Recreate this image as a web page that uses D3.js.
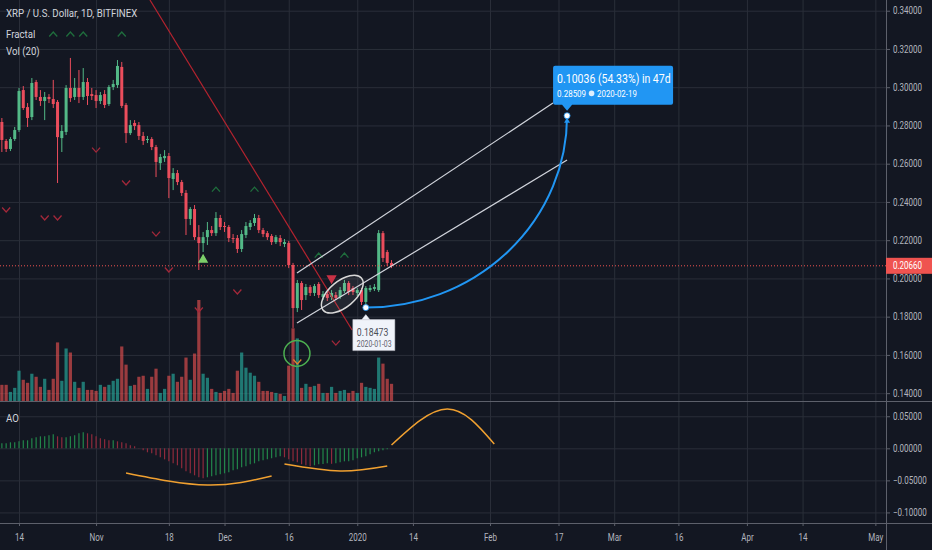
<!DOCTYPE html>
<html>
<head>
<meta charset="utf-8">
<script src="https://cdn.jsdelivr.net/npm/d3@7"></script>
<style>
  body { margin: 0; background: #131722; }
  svg { display: block; }
  text { font-family: Roboto, "Noto Sans", sans-serif; }
</style>
</head>
<body>
<svg id="chart" width="932" height="550"></svg>
<script>
// ---- data (XRP/USD daily, Bitfinex) : Oct 10 2019 .. Jan 9 2020 ----
const firstDay = "2019-10-10";
const lastDay = "2020-01-10"; // exclusive

const opens = [
  .2818,.2719,.2677,.2729,.2776,.2985,.2896,.2844,.3027,.2949,.2928,.2949,.2938,.2923,.2734,.2766,.2996,.2949,.2996,.2949,.3027,.2964,
  .2959,.2928,.2964,.2912,.3001,.3011,.3106,.2907,.2760,.2813,.2802,.2745,.2724,.2729,.2687,.2603,.2629,.2640,.2520,.2551,.2504,.2447,.2311,.2363,.2216,.2185,.2216,.2253,.2237,.2316,
  .2274,.2269,.2211,.2211,.2154,.2227,.2269,.2290,.2316,.2253,.2237,.2222,.2190,.2211,.2180,.2185,.2070,.1845,.1976,.1913,.1955,.1924,.1971,.1903,.1918,.1903,.1913,.1903,.1934,.1976,.1950,
  .1924,.1939,.1877,.1939,.1945,.1939,.2237,.2138,.2081
];
const highs = [
  .2839,.2729,.2739,.2792,.2996,.3006,.2917,.3048,.3038,.2985,.2975,.2964,.3038,.2933,.2802,.3011,.3153,.3048,.3090,.3100,.3048,.2996,
  .2985,.2975,.2985,.3011,.3038,.3142,.3132,.2917,.2828,.2828,.2818,.2766,.2745,.2739,.2698,.2651,.2671,.2656,.2577,.2567,.2515,.2462,.2373,.2384,.2279,.2243,.2295,.2274,.2347,.2332,
  .2295,.2279,.2232,.2227,.2253,.2295,.2305,.2337,.2332,.2264,.2248,.2232,.2227,.2227,.2206,.2196,.2081,.1992,.1986,.1971,.1965,.1971,.1981,.1934,.1929,.1939,.1929,.1955,.1992,.1986,.1960,
  .1950,.1950,.1960,.1965,.1971,.2253,.2248,.2149,.2096
];
const lows = [
  .2661,.2661,.2666,.2719,.2766,.2881,.2792,.2828,.2933,.2902,.2828,.2917,.2891,.2499,.2661,.2750,.2923,.2933,.2917,.2933,.2907,.2933,
  .2891,.2912,.2891,.2902,.2985,.2996,.2891,.2708,.2750,.2776,.2724,.2698,.2708,.2671,.2530,.2567,.2609,.2420,.2462,.2488,.2431,.2227,.2279,.2201,.2044,.2138,.2175,.2222,.2222,.2253,
  .2243,.2190,.2185,.2133,.2138,.2211,.2253,.2274,.2237,.2216,.2201,.2175,.2180,.2169,.2164,.2054,.1741,.1824,.1835,.1887,.1908,.1908,.1898,.1887,.1882,.1887,.1887,.1892,.1924,.1913,.1913,
  .1908,.1861,.18473,.1929,.1934,.1929,.2086,.2065,.2054
];
const closes = [
  .2724,.2677,.2729,.2776,.2980,.2891,.2839,.3022,.2949,.2928,.2949,.2938,.2912,.2739,.2771,.2996,.2943,.2996,.2949,.3027,.2954,.2954,
  .2928,.2959,.2907,.3001,.3017,.3111,.2902,.2760,.2802,.2797,.2745,.2719,.2729,.2687,.2609,.2635,.2640,.2525,.2551,.2504,.2447,.2311,.2363,.2216,.2185,.2216,.2253,.2237,.2316,.2269,
  .2269,.2211,.2206,.2154,.2232,.2274,.2290,.2316,.2253,.2232,.2216,.2190,.2216,.2190,.2190,.2070,.1845,.1976,.1887,.1955,.1924,.1960,.1913,.1918,.1898,.1924,.1898,.1939,.1976,.1929,.1929,
  .1939,.1877,.1950,.1950,.1955,.2237,.2107,.2081,.2066
];
// volume, millions XRP
const volumes = [
  16,16,9,13,30,21,18,27,24,14,22,11,22,58,20,52,48,19,13,19,11,11,
  10,16,14,16,20,22,54,36,15,16,24,25,12,24,32,8,12,25,27,19,24,43,21,47,100,27,23,12,9,8,
  10,12,8,30,48,33,28,25,19,10,10,9,8,7,5,35,72,62,13,17,14,15,17,8,8,14,8,10,11,8,10,
  8,18,14,13,12,43,37,22,17
];
// Awesome Oscillator, Oct 10 .. Jan 8
const aoValues = [
  .0078,.0078,.0094,.0094,.0109,.0125,.0125,.0156,.0172,.0187,.0187,.0203,.0218,.0187,.0172,.0172,.0187,.0203,.0234,.0250,.0234,.0218,
  .0187,.0156,.0140,.0125,.0125,.0109,.0094,.0078,.0047,.0031,.0004,-.0031,-.0062,-.0078,-.0109,-.0140,-.0172,-.0203,-.0234,-.0265,-.0312,-.0359,-.0390,-.0421,-.0452,-.0468,-.0452,-.0437,-.0421,-.0406,
  -.0390,-.0374,-.0343,-.0328,-.0296,-.0281,-.0250,-.0234,-.0203,-.0187,-.0172,-.0156,-.0140,-.0125,-.0140,-.0172,-.0203,-.0218,-.0250,-.0265,-.0281,-.0265,-.0250,-.0246,-.0234,-.0242,-.0234,-.0218,-.0203,-.0200,-.0187,
  -.0156,-.0140,-.0125,-.0094,-.0062,-.0047,-.0031,-.0016
];

// Williams fractals as plotted
const fractalUp = [["2019-10-22",.3278],["2019-10-26",.3278],["2019-10-29",.3278],["2019-11-07",.3278],
  ["2019-11-29",.2467],["2019-12-08",.2467],["2019-12-23",.2122],["2019-12-29",.2122]];
const fractalUpStrong = [["2019-11-26",.2101]];
const fractalDown = [["2019-10-11",.2358],["2019-10-20",.2316],["2019-10-23",.2316],["2019-11-01",.2671],
  ["2019-11-08",.2499],["2019-11-15",.2232],["2019-11-18",.2044],["2019-11-25",.1835],["2019-12-04",.1929],["2019-12-27",.1662]];
const fractalDownStrong = [["2019-12-26",.1997]];
const fractalMarked = [["2019-12-18",.1563]];

// axis ticks
const priceTicks = [0.14,0.16,0.18,0.20,0.22,0.24,0.26,0.28,0.30,0.32,0.34];
const aoTicks = [0.05,0,-0.05,-0.10];
const timeTicks = ["2019-10-14","2019-11-01","2019-11-18","2019-12-01","2019-12-16","2020-01-01","2020-01-14",
  "2020-02-01","2020-02-17","2020-03-01","2020-03-16","2020-04-01","2020-04-14","2020-05-01"];
const timeLabels = ["14","Nov","18","Dec","16","2020","14","Feb","17","Mar","16","Apr","14","May"];

// drawings
const trendLine = [["2019-11-13T14:00Z",.3456],["2019-12-30T19:00Z",.1730]];
const channelUpper = [["2019-12-17T22:00Z",.2028],["2020-02-15T17:00Z",.2917]];
const channelLower = [["2019-12-17T22:00Z",.1767],["2020-02-19T00:00Z",.2619]];
const ellipseCenter = ["2019-12-28T12:00Z",.1918];
const circleCenter = ["2019-12-17T22:00Z",.1608];
const projFrom = ["2020-01-03",.18473];
const projTo = ["2020-02-19",.28509];
const aoArcs = [
  [["2019-11-08",-.0385],["2019-11-27",-.0573],["2019-12-12",-.0432]],
  [["2019-12-15",-.0245],["2019-12-28",-.0354],["2020-01-08",-.0276]],
  [["2020-01-09",.0052],["2020-01-22",.0613],["2020-02-02",.0067]]
];
const lastPrice = 0.2066;

// ---- layout ----
const W = 932, H = 550, axisX = 886;
const priceBottom = 401, aoTop = 401, aoBottom = 523;
const upColor = "#53b987", downColor = "#eb4d5c";
const gridColor = "#2a2e39", textColor = "#b2b5be";

const parse = s => new Date(s);
const days = d3.utcDay.range(parse(firstDay), parse(lastDay));
const candles = days.map((d, i) => ({
  date: d, o: opens[i], h: highs[i], l: lows[i], c: closes[i], v: volumes[i], ao: aoValues[i]
}));

const x = d3.scaleUtc().domain([parse("2019-10-14"), parse("2020-02-01")]).range([19, 490]);
const y = d3.scaleLinear().domain([0.1359, 0.3456]).range([priceBottom, 0]);
const yVol = d3.scaleLinear().domain([0, 100]).range([priceBottom, 300]);
const yAo = d3.scaleLinear().domain([-0.1165, 0.0738]).range([aoBottom, aoTop]);
const fmt = d3.format(".5f");

// the screenshot's font is narrow, so squeeze text horizontally
function squeeze(sel, k) {
  sel.each(function() {
    const t = d3.select(this);
    const x0 = +t.attr("x") || 0;
    t.attr("x", x0 / k).attr("transform", `scale(${k},1)`);
  });
}

const svg = d3.select("#chart");
svg.append("rect").attr("width", W).attr("height", H).attr("fill", "#131722");

const defs = svg.append("defs");
defs.append("clipPath").attr("id", "priceClip")
  .append("rect").attr("width", axisX).attr("height", priceBottom);
defs.append("clipPath").attr("id", "aoClip")
  .append("rect").attr("y", aoTop).attr("width", axisX).attr("height", aoBottom - aoTop);

// ---- grid ----
function styleGrid(g) {
  g.select(".domain").remove();
  g.selectAll(".tick line").attr("stroke", gridColor);
}
svg.append("g")
  .call(d3.axisBottom(x).tickValues(timeTicks.map(parse)).tickSize(aoBottom).tickFormat(""))
  .call(styleGrid);
svg.append("g").attr("transform", `translate(${axisX},0)`)
  .call(d3.axisLeft(y).tickValues(priceTicks).tickSize(axisX).tickFormat(""))
  .call(styleGrid);
svg.append("g").attr("transform", `translate(${axisX},0)`)
  .call(d3.axisLeft(yAo).tickValues(aoTicks).tickSize(axisX).tickFormat(""))
  .call(styleGrid);

// ---- price pane ----
const pane = svg.append("g").attr("clip-path", "url(#priceClip)");

pane.append("g").selectAll("rect").data(candles).join("rect")
  .attr("x", d => x(d.date) - 1.6).attr("width", 3.2)
  .attr("y", d => yVol(d.v)).attr("height", d => priceBottom - yVol(d.v))
  .attr("fill", d => d.c >= d.o ? "rgba(38,166,154,0.68)" : "rgba(239,83,80,0.62)");

pane.append("g").selectAll("line").data(candles).join("line")
  .attr("x1", d => x(d.date)).attr("x2", d => x(d.date))
  .attr("y1", d => y(d.h)).attr("y2", d => y(d.l))
  .attr("stroke", d => d.c >= d.o ? upColor : downColor).attr("stroke-width", 1);

pane.append("g").selectAll("rect").data(candles).join("rect")
  .attr("x", d => x(d.date) - 1.5).attr("width", 3)
  .attr("y", d => y(Math.max(d.o, d.c)))
  .attr("height", d => Math.max(1, Math.abs(y(d.o) - y(d.c))))
  .attr("fill", d => d.c >= d.o ? upColor : downColor);

// last price line
pane.append("line")
  .attr("x1", 0).attr("x2", axisX).attr("y1", y(lastPrice)).attr("y2", y(lastPrice))
  .attr("stroke", "#ef5350").attr("stroke-dasharray", "1,2").attr("stroke-width", 1);

// fractals
const chevUp = "M-4,2.5L0,-2L4,2.5", chevDown = "M-4,-2.5L0,2L4,-2.5";
function marks(data, path, stroke, fill) {
  pane.append("g").selectAll("path").data(data).join("path")
    .attr("transform", d => `translate(${x(parse(d[0]))},${y(d[1])})`)
    .attr("d", path)
    .attr("fill", fill || "none").attr("stroke", stroke).attr("stroke-width", 1.3);
}
marks(fractalUp, chevUp, "#1f6e3d");
marks(fractalDown, chevDown, "#a3283a");
marks(fractalUpStrong, "M-4,3L0,-4L4,3Z", "#7ccf6a", "#7ccf6a");
marks(fractalDownStrong, "M-4,-3L0,4L4,-3Z", "#c83246", "#c83246");
marks(fractalMarked, chevDown, "#d9822b");

// drawings
const pt = p => [x(parse(p[0])), y(p[1])];
function segment(pts, color, width) {
  pane.append("path").attr("d", d3.line()(pts.map(pt)))
    .attr("stroke", color).attr("stroke-width", width).attr("fill", "none");
}
segment(trendLine, "#b5232f", 1.2);
segment(channelUpper, "#d1d4dc", 1.2);
segment(channelLower, "#d1d4dc", 1.2);

const ec = pt(ellipseCenter);
pane.append("ellipse")
  .attr("transform", `translate(${ec[0]},${ec[1]}) rotate(-40)`)
  .attr("rx", 25).attr("ry", 13)
  .attr("fill", "rgba(255,255,255,0.07)").attr("stroke", "#d8d8d8").attr("stroke-width", 1.5);

const cc = pt(circleCenter);
pane.append("circle").attr("cx", cc[0]).attr("cy", cc[1]).attr("r", 13)
  .attr("fill", "none").attr("stroke", "#4caf50").attr("stroke-width", 1.5);

// projection arc (quarter ellipse from the low to the target)
const p0 = pt(projFrom), p1 = pt(projTo);
pane.append("path")
  .attr("d", `M${p0[0]},${p0[1]} A${p1[0] - p0[0]},${p0[1] - p1[1]} 0 0 0 ${p1[0]},${p1[1]}`)
  .attr("fill", "none").attr("stroke", "#2196f3").attr("stroke-width", 2);
pane.append("path")
  .attr("transform", `translate(${p1[0]},${p1[1] + 4})`)
  .attr("d", "M-3,3L0,-2L3,3Z").attr("fill", "#2196f3");
pane.append("circle").attr("cx", p0[0]).attr("cy", p0[1]).attr("r", 3)
  .attr("fill", "#fff").attr("stroke", "#2196f3").attr("stroke-width", 0.8);
pane.append("circle").attr("cx", p1[0]).attr("cy", p1[1]).attr("r", 3)
  .attr("fill", "#fff").attr("stroke", "#2196f3").attr("stroke-width", 0.8);

// low label
const low = pane.append("g").attr("transform", `translate(${p0[0]},${p0[1]})`);
low.append("path").attr("d", "M-13,12H29V43H-13Z M-4,12L0,7L4,12Z")
  .attr("fill", "#f0f3fa").attr("stroke", "#c8cbd3").attr("stroke-width", 0.5);
low.append("text").attr("x", -9).attr("y", 28).attr("font-size", 11.7).attr("fill", "#4a4e59")
  .text(fmt(projFrom[1])).call(squeeze, 0.74);
low.append("text").attr("x", -9).attr("y", 39).attr("font-size", 8.5).attr("fill", "#5d606b")
  .text(projFrom[0]).call(squeeze, 0.81);

// range callout
const dPrice = projTo[1] - projFrom[1];
const dDays = d3.utcDay.count(parse(projFrom[0]), parse(projTo[0]));
const box = pane.append("g").attr("transform", `translate(${p1[0]},${p1[1]})`);
box.append("path")
  .attr("d", "M-12,-50H104a2,2 0 0 1 2,2V-13a2,2 0 0 1 -2,2H5L0,-5L-5,-11H-12a2,2 0 0 1 -2,-2V-48a2,2 0 0 1 2,-2Z")
  .attr("fill", "#2196f3");
box.append("text").attr("x", -10).attr("y", -33).attr("font-size", 13).attr("fill", "#fff")
  .text(`${fmt(dPrice)} (${(dPrice / projFrom[1] * 100).toFixed(2)}%) in ${dDays}d`).call(squeeze, 0.81);
box.append("text").attr("x", -10).attr("y", -19).attr("font-size", 9.5).attr("fill", "#fff")
  .text(fmt(projTo[1])).call(squeeze, 0.84);
box.append("circle").attr("cx", 24.5).attr("cy", -22.3).attr("r", 2.8).attr("fill", "#fff").attr("opacity", 0.85);
box.append("text").attr("x", 30).attr("y", -19).attr("font-size", 9.5).attr("fill", "#fff")
  .text(projTo[0]).call(squeeze, 0.83);

// ---- AO pane ----
const aoPane = svg.append("g").attr("clip-path", "url(#aoClip)");
const aoData = candles.filter(d => d.ao !== undefined);
aoPane.append("g").selectAll("line").data(aoData).join("line")
  .attr("x1", d => x(d.date)).attr("x2", d => x(d.date))
  .attr("y1", yAo(0)).attr("y2", d => yAo(d.ao))
  .attr("stroke", (d, i) => i > 0 && d.ao < aoData[i - 1].ao ? "#8f2a3c" : "#22864a")
  .attr("stroke-width", 1.2);

const arcLine = d3.line().x(p => x(parse(p[0]))).y(p => yAo(p[1])).curve(d3.curveNatural);
aoPane.append("g").selectAll("path").data(aoArcs).join("path")
  .attr("d", arcLine)
  .attr("fill", "none").attr("stroke", "#f0a030").attr("stroke-width", 1.5);

// ---- separators and axes ----
svg.append("line").attr("x1", 0).attr("x2", W).attr("y1", aoTop + 0.5).attr("y2", aoTop + 0.5)
  .attr("stroke", "#5d606b");
svg.append("line").attr("x1", 0).attr("x2", W).attr("y1", aoBottom + 0.5).attr("y2", aoBottom + 0.5)
  .attr("stroke", "#5d606b");
svg.append("line").attr("x1", axisX + 0.5).attr("x2", axisX + 0.5).attr("y1", 0).attr("y2", H)
  .attr("stroke", "#5d606b");

function styleAxis(g) {
  g.select(".domain").remove();
  g.selectAll(".tick line").attr("stroke", "#5d606b");
  g.selectAll(".tick text").attr("fill", textColor).attr("font-size", 10)
    .style("font-family", "Roboto, sans-serif").call(squeeze, 0.8);
}
svg.append("g").attr("transform", `translate(${axisX},0)`)
  .call(d3.axisRight(y).tickValues(priceTicks).tickFormat(fmt).tickSize(4).tickPadding(3))
  .call(styleAxis);
svg.append("g").attr("transform", `translate(${axisX},0)`)
  .call(d3.axisRight(yAo).tickValues(aoTicks).tickFormat(fmt).tickSize(4).tickPadding(3))
  .call(styleAxis);
svg.append("g").attr("transform", `translate(0,${aoBottom})`)
  .call(d3.axisBottom(x).tickValues(timeTicks.map(parse)).tickFormat((d, i) => timeLabels[i])
    .tickSize(3).tickPadding(8))
  .call(styleAxis);

// last price tag
const tag = svg.append("g").attr("transform", `translate(${axisX},${y(lastPrice)})`);
tag.append("rect").attr("x", 0).attr("y", -8).attr("width", W - axisX).attr("height", 16).attr("fill", "#ef5350");
tag.append("text").attr("x", 7).attr("y", 3.5).attr("font-size", 10).attr("fill", "#fff")
  .text(fmt(lastPrice)).call(squeeze, 0.8);

// ---- legends ----
const legend = [["XRP / U.S. Dollar, 1D, BITFINEX", 17], ["Fractal", 38], ["Vol (20)", 55]];
svg.append("g").selectAll("text").data(legend).join("text")
  .attr("x", 6).attr("y", d => d[1]).attr("font-size", 11.5).attr("fill", "#d1d4dc")
  .text(d => d[0]).call(squeeze, 0.84);
svg.append("text").attr("x", 6).attr("y", 422).attr("font-size", 11.5).attr("fill", "#d1d4dc")
  .text("AO").call(squeeze, 0.84);
</script>
</body>
</html>
